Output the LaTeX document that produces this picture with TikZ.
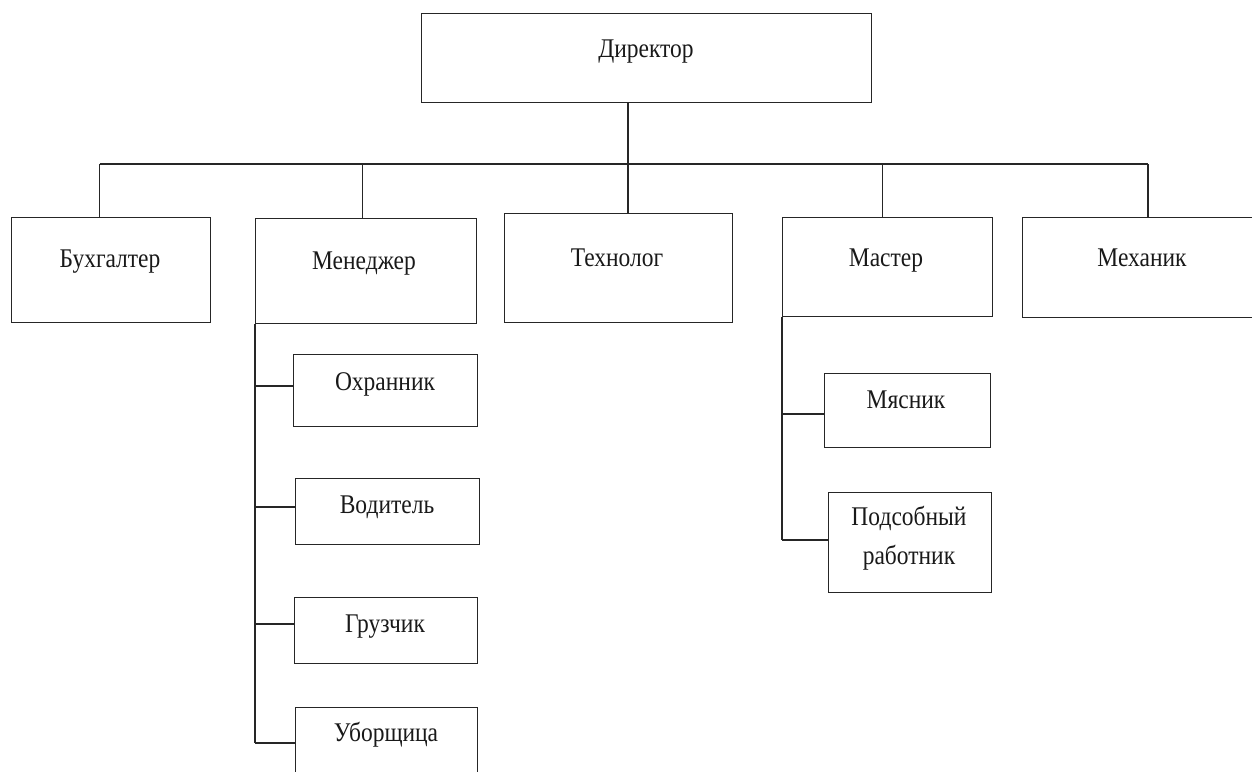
\documentclass[tikz,border=0pt]{standalone}
\usepackage{fontspec}
\setmainfont{Liberation Serif}[FakeStretch=0.87]
\begin{document}
\begin{tikzpicture}[x=1pt,y=-1pt,
  box/.style={draw=black!85, line width=1.3pt, inner sep=0pt, anchor=north west},
  lbl/.style={anchor=base, inner sep=0pt, font=\fontsize{27}{39}\selectfont, text=black!90},
  conn/.style={draw=black!85, line width=1.3pt}]
\useasboundingbox (0,0) rectangle (1252,771);
% boxes
\node[box, minimum width=450pt, minimum height=89pt] (dir) at (421,13) {};
\node[box, minimum width=199pt, minimum height=105pt] (buh) at (11,217) {};
\node[box, minimum width=221pt, minimum height=105pt] (men) at (255,218) {};
\node[box, minimum width=228pt, minimum height=109pt] (tech) at (504,213) {};
\node[box, minimum width=210pt, minimum height=99pt] (mas) at (782,217) {};
\node[box, minimum width=240pt, minimum height=100pt] (meh) at (1022,217) {};
\node[box, minimum width=184pt, minimum height=72pt] (ohr) at (293,354) {};
\node[box, minimum width=184pt, minimum height=66pt] (vod) at (295,478) {};
\node[box, minimum width=183pt, minimum height=66pt] (gru) at (294,597) {};
\node[box, minimum width=182pt, minimum height=80pt] (ubo) at (295,707) {};
\node[box, minimum width=166pt, minimum height=74pt] (mya) at (824,373) {};
\node[box, minimum width=163pt, minimum height=100pt] (pod) at (828,492) {};
% labels
\node[lbl] (tdir) at (646,57) {Директор};
\node[lbl] (tbuh) at (110,267) {Бухгалтер};
\node[lbl] (tmen) at (364,269) {Менеджер};
\node[lbl] (ttech) at (617,266) {Технолог};
\node[lbl] (tmas) at (886,266) {Мастер};
\node[lbl] (tmeh) at (1142,266) {Механик};
\node[lbl] (tohr) at (385,390) {Охранник};
\node[lbl] (tvod) at (387,513) {Водитель};
\node[lbl] (tgru) at (385,632) {Грузчик};
\node[lbl] (tubo) at (386,741) {Уборщица};
\node[lbl] (tmya) at (906,408) {Мясник};
\node[lbl, align=center, anchor=north] (tpod) at (909,506) {Подсобный\\работник};
% bus coordinates
\coordinate (bC) at (628,164);
\coordinate (bL) at (99.5,164);
\coordinate (bM) at (362.5,164);
\coordinate (bS) at (882.5,164);
\coordinate (bR) at (1148,164);
\draw[conn] (dir.south -| bC) -- (bC);
\draw[conn] (bL) -- (bR);
\draw[conn] (bL) -- (bL |- buh.north);
\draw[conn] (bM) -- (bM |- men.north);
\draw[conn] (bC) -- (bC |- tech.north);
\draw[conn] (bS) -- (bS |- mas.north);
\draw[conn] (bR) -- (bR |- meh.north);
% manager branch
\coordinate (mB) at (255,743);
\draw[conn] (men.south west) -- (mB);
\draw[conn] (255,386) -- (255,386 -| ohr.west);
\draw[conn] (255,507) -- (255,507 -| vod.west);
\draw[conn] (255,624) -- (255,624 -| gru.west);
\draw[conn] (mB) -- (mB -| ubo.west);
% master branch
\coordinate (sB) at (782,540);
\draw[conn] (mas.south west) -- (sB);
\draw[conn] (782,414) -- (782,414 -| mya.west);
\draw[conn] (sB) -- (sB -| pod.west);
\end{tikzpicture}
\end{document}
